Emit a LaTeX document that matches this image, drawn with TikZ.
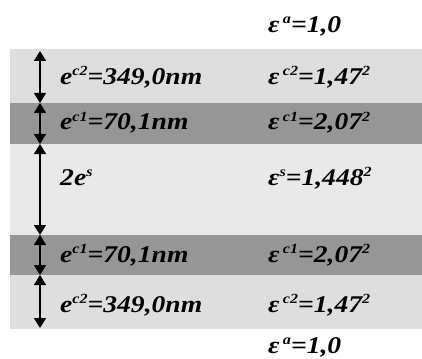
\documentclass[tikz,border=0pt]{standalone}
\usepackage{fontspec}
\setmainfont{Liberation Serif}
\usepackage{graphicx}
\usepackage{tikz}
\usetikzlibrary{arrows.meta, positioning}
\definecolor{cladtwo}{HTML}{DEDEDE}
\definecolor{cladone}{HTML}{969696}
\definecolor{slabgray}{HTML}{E9E9E9}
\newcommand{\widetext}[1]{\scalebox{1.15}[1]{#1}}
\newcommand{\supr}[1]{\raisebox{9pt}{\fontsize{14}{14}\selectfont #1}}
\tikzstyle{layer} = [rectangle, draw=none, minimum width=412pt, anchor=north west, inner sep=0pt, outer sep=0pt]
\tikzstyle{lbl} = [anchor=base west, inner sep=0pt, font=\fontsize{24}{28}\selectfont\bfseries\itshape]
\tikzstyle{arrow} = [line width=1.6pt, {Triangle[width=12pt,length=10pt]}-{Triangle[width=12pt,length=10pt]}]

\begin{document}
\begin{tikzpicture}[x=1pt, y=-1pt]
    \useasboundingbox (0,0) rectangle (422,358);
    % Layers
    \node[layer, fill=cladtwo, minimum height=54pt] (c2top) at (10,49) {};
    \node[layer, fill=cladone, minimum height=41pt] (c1top) at (10,103) {};
    \node[layer, fill=slabgray, minimum height=91pt] (slab) at (10,144) {};
    \node[layer, fill=cladone, minimum height=40pt] (c1bot) at (10,235) {};
    \node[layer, fill=cladtwo, minimum height=54pt] (c2bot) at (10,275) {};

    % Boundaries
    \coordinate (b0) at (40,51);
    \coordinate (b1) at (40,103);
    \coordinate (b2) at (40,144);
    \coordinate (b3) at (40,235);
    \coordinate (b4) at (40,275);
    \coordinate (b5) at (40,328);

    % Thicknesses
    \node[lbl] (tc2top) at (60,85) {\widetext{e\supr{c2}=349,0nm}};
    \node[lbl] (tc1top) at (60,130) {\widetext{e\supr{c1}=70,1nm}};
    \node[lbl] (tslab) at (60,185) {\widetext{2e\supr{s}}};
    \node[lbl] (tc1bot) at (60,262) {\widetext{e\supr{c1}=70,1nm}};
    \node[lbl] (tc2bot) at (60,312) {\widetext{e\supr{c2}=349,0nm}};

    % Permittivities
    \node[lbl] (eairtop) at (268,33) {\widetext{ε\kern3pt\supr{a}=1,0}};
    \node[lbl] (ec2top) at (268,85) {\widetext{ε\kern3pt\supr{c2}=1,47\supr{2}}};
    \node[lbl] (ec1top) at (268,130) {\widetext{ε\kern3pt\supr{c1}=2,07\supr{2}}};
    \node[lbl] (eslab) at (268,185) {\widetext{ε\supr{s}=1,448\supr{2}}};
    \node[lbl] (ec1bot) at (268,262) {\widetext{ε\kern3pt\supr{c1}=2,07\supr{2}}};
    \node[lbl] (ec2bot) at (268,312) {\widetext{ε\kern3pt\supr{c2}=1,47\supr{2}}};
    \node[lbl] (eairbot) at (268,353) {\widetext{ε\kern3pt\supr{a}=1,0}};

    % Arrows
    \draw[arrow] (b0) -- (b1);
    \draw[arrow] (b1) -- (b2);
    \draw[arrow] (b2) -- (b3);
    \draw[arrow] (b3) -- (b4);
    \draw[arrow] (b4) -- (b5);
\end{tikzpicture}
\end{document}
